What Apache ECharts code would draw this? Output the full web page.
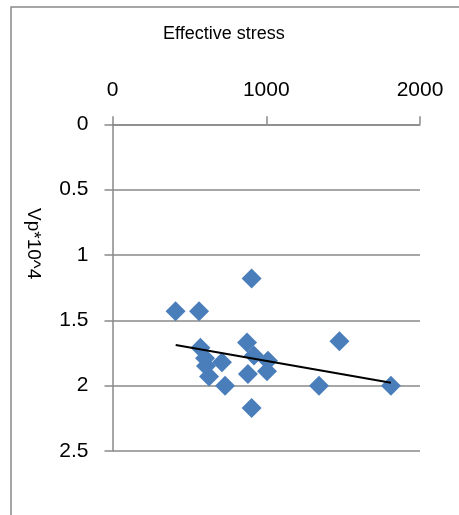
<!DOCTYPE html>
<html>
<head>
<meta charset="utf-8">
<script src="https://cdn.jsdelivr.net/npm/echarts@6/dist/echarts.min.js"></script>
<style>html,body{margin:0;padding:0;background:#fff;}#c{width:459px;height:515px;}</style>
</head>
<body>
<div id="c"></div>
<script>
var titleText = 'Effective stress';
var yName = 'Vp*10^4';
var xTicks = [0, 1000, 2000];
var yTicks = [0, 0.5, 1, 1.5, 2, 2.5];
var stress = [410, 563, 905, 1476, 875, 572, 602, 608, 628, 712, 732, 920, 1011, 1005, 881, 905, 1343, 1811];
var vp = [1.43, 1.43, 1.18, 1.66, 1.67, 1.71, 1.79, 1.85, 1.93, 1.82, 2.00, 1.77, 1.81, 1.89, 1.91, 2.17, 2.00, 2.00];
var trendX = [411, 1811];
var trendY = [1.689, 1.977];

var pts = stress.map(function (x, i) { return [x, vp[i]]; });
var trend = trendX.map(function (x, i) { return [x, trendY[i]]; });
var font = 'Liberation Sans, Arial, sans-serif';
var grey = '#898989';

var chart = echarts.init(document.getElementById('c'), null, {renderer: 'canvas'});
chart.setOption({
  animation: false,
  backgroundColor: '#fff',
  title: {
    text: titleText, left: 158, top: 20,
    textStyle: {fontFamily: font, fontSize: 18, fontWeight: 'normal', color: '#000'}
  },
  grid: {left: 112.5, right: 39, top: 124.3, bottom: 64, containLabel: false},
  graphic: [
    {type: 'rect', shape: {x: 11, y: 7, width: 460, height: 520},
     style: {fill: 'none', stroke: grey, lineWidth: 1.5}, silent: true},
    {type: 'text', x: 24, y: 208, rotation: -Math.PI / 2, originX: 0, originY: 0,
     style: {text: yName, font: '19px ' + font, fill: '#000', textAlign: 'left', textVerticalAlign: 'bottom'}}
  ],
  xAxis: {
    type: 'value', position: 'top', min: xTicks[0], max: xTicks[xTicks.length - 1], interval: 1000,
    axisLine: {show: true, lineStyle: {color: grey, width: 1.5}},
    axisTick: {show: true, inside: false, length: 8, lineStyle: {color: grey, width: 1.5}},
    axisLabel: {margin: 24, fontFamily: font, fontSize: 21, color: '#000',
      formatter: function (v) { return String(v); }},
    splitLine: {show: false}
  },
  yAxis: {
    type: 'value', inverse: true, min: yTicks[0], max: yTicks[yTicks.length - 1], interval: 0.5,
    axisLine: {show: true, lineStyle: {color: grey, width: 1.5}},
    axisTick: {show: true, inside: false, length: 8, lineStyle: {color: grey, width: 1.5}},
    axisLabel: {margin: 24, fontFamily: font, fontSize: 21, color: '#000',
      formatter: function (v) { return String(v); }},
    splitLine: {show: true, lineStyle: {color: grey, width: 1.5}}
  },
  series: [
    {type: 'scatter', data: pts, symbol: 'diamond', symbolSize: 20,
     itemStyle: {color: '#4a7ebb', opacity: 1}},
    {type: 'line', data: trend, showSymbol: false, symbol: 'none',
     lineStyle: {color: '#000', width: 2}, z: 3}
  ]
});
</script>
</body>
</html>
